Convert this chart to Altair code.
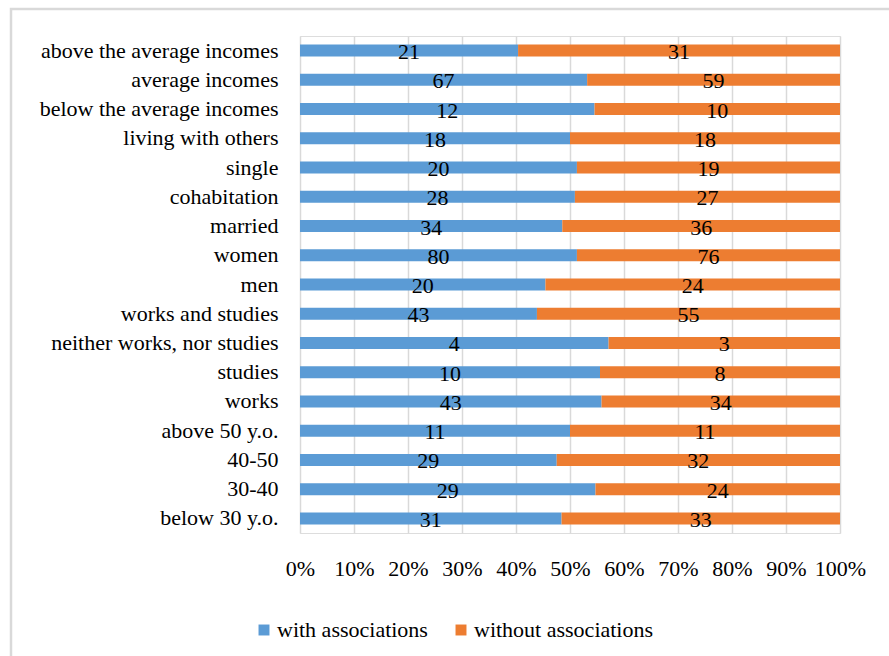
import altair as alt
import pandas as pd

categories = [
    "above the average incomes", "average incomes", "below the average incomes",
    "living with others", "single", "cohabitation", "married", "women", "men",
    "works and studies", "neither works, nor studies", "studies", "works",
    "above 50 y.o.", "40-50", "30-40", "below 30 y.o.",
]
with_assoc = [21, 67, 12, 18, 20, 28, 34, 80, 20, 43, 4, 10, 43, 11, 29, 29, 31]
without_assoc = [31, 59, 10, 18, 19, 27, 36, 76, 24, 55, 3, 8, 34, 11, 32, 24, 33]
series = ["with associations", "without associations"]
colors = ["#5B9BD5", "#ED7D31"]

rows = []
for c, a, b in zip(categories, with_assoc, without_assoc):
    rows.append({"cat": c, "series": series[0], "order": 0, "value": a})
    rows.append({"cat": c, "series": series[1], "order": 1, "value": b})
df = pd.DataFrame(rows)

FONT = "Liberation Serif"
FS = 22
W, H = 540, 497

base = alt.Chart(df).transform_stack(
    stack="value", groupby=["cat"], as_=["x0", "x1"], offset="normalize",
    sort=[alt.SortField("order", order="ascending")],
).transform_calculate(mid="(datum.x0 + datum.x1) / 2")

ycat = alt.Y("cat:N", sort=categories, title=None,
             scale=alt.Scale(paddingInner=0.59, paddingOuter=0.295),
             axis=alt.Axis(labelFont=FONT, labelFontSize=FS, labelColor="#000000",
                           labelPadding=22, ticks=False, domain=False, grid=False,
                           labelLimit=400))

bars = base.mark_bar(size=12).encode(
    x=alt.X("x0:Q", title=None, scale=alt.Scale(domain=[0, 1]),
            axis=alt.Axis(format="%", values=[i / 10 for i in range(11)],
                          labelFont=FONT, labelFontSize=FS, labelColor="#000000",
                          labelPadding=25, ticks=False, domain=False,
                          labelOverlap=False, labelFlush=False,
                          grid=True, gridColor="#D9D9D9", gridWidth=1.5)),
    x2="x1:Q",
    y=ycat,
    color=alt.Color("series:N", sort=series,
                    scale=alt.Scale(domain=series, range=colors),
                    legend=alt.Legend(title=None, orient="none", direction="horizontal",
                                      legendX=-47, legendY=583,
                                      labelFont=FONT, labelFontSize=FS,
                                      labelColor="#000000", symbolType="square",
                                      symbolSize=120, symbolStrokeWidth=0,
                                      columnPadding=22, labelOffset=2,
                                      labelLimit=400)),
)

labels = base.mark_text(font=FONT, fontSize=FS, color="#000000", dy=1.5).encode(
    x=alt.X("mid:Q"),
    y=alt.Y("cat:N", sort=categories),
    text=alt.Text("value:Q"),
)

border = alt.Chart(pd.DataFrame({"k": [0]})).mark_rect(
    fill=None, stroke="#D9D9D9", strokeWidth=2.5
).encode(
    x=alt.value(-289), x2=alt.value(600), y=alt.value(-27), y2=alt.value(700)
)

chart = alt.layer(border, bars, labels).properties(
    width=W, height=H,
    autosize=alt.AutoSizeParams(type="none"),
    padding={"left": 300, "top": 36, "right": 49, "bottom": 123},
).configure_view(stroke=None).configure(background="white")

chart.save("out.html", embed_options={"renderer": "svg", "actions": False})
